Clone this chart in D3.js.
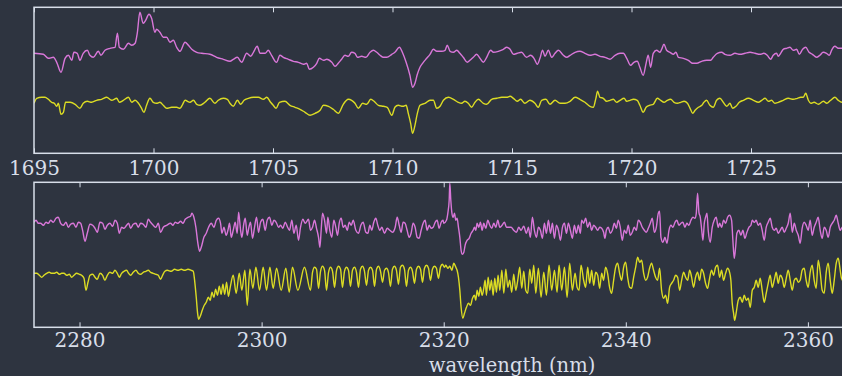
<!DOCTYPE html>
<html lang="en">
<head>
<meta charset="UTF-8">
<title>Two-band spectra</title>
<script src="https://d3js.org/d3.v7.min.js"></script>
<style>
  html, body { margin: 0; padding: 0; background: #2e3440; }
  svg { display: block; }
</style>
</head>
<body>
<div id="chart"></div>
<script>
// Tick values for the two wavelength windows (only the ones on the page)
const topTicks = [1695, 1700, 1705, 1710, 1715, 1720, 1725];
const botTicks = [2280, 2300, 2320, 2340, 2360];

// [wavelength (nm), flux], upper window
const topPink = [
  [1695.00,1.00],[1695.39,0.99],[1695.60,0.95],[1695.81,0.96],[1695.95,0.91],[1696.13,0.81],[1696.30,0.95],[1696.44,0.98],
  [1696.58,0.93],[1696.67,1.01],[1696.81,1.00],[1696.92,0.93],[1697.06,1.00],[1697.23,1.03],[1697.34,0.98],[1697.48,0.96],
  [1697.69,1.02],[1697.80,0.98],[1697.97,1.03],[1698.18,1.05],[1698.39,1.06],[1698.49,1.20],[1698.57,1.06],[1698.74,1.04],
  [1698.95,1.10],[1699.09,1.08],[1699.23,1.10],[1699.32,1.20],[1699.43,1.41],[1699.57,1.30],[1699.67,1.33],[1699.81,1.39],
  [1699.92,1.35],[1700.06,1.21],[1700.13,1.24],[1700.27,1.21],[1700.41,1.16],[1700.55,1.16],[1700.69,1.11],[1700.83,1.13],
  [1700.97,1.06],[1701.11,1.02],[1701.32,1.11],[1701.46,1.08],[1701.60,1.04],[1701.81,1.01],[1702.02,1.00],[1702.36,0.99],
  [1702.64,0.96],[1702.92,0.94],[1703.20,0.92],[1703.34,0.94],[1703.51,0.96],[1703.69,0.91],[1703.90,1.00],[1704.07,0.97],
  [1704.18,1.01],[1704.34,1.07],[1704.46,1.00],[1704.67,1.00],[1704.80,1.03],[1704.94,0.98],[1705.15,0.91],[1705.29,0.98],
  [1705.43,0.96],[1705.64,0.94],[1705.85,0.92],[1706.06,0.91],[1706.27,0.89],[1706.41,0.90],[1706.52,0.84],[1706.69,0.86],
  [1706.83,0.90],[1706.94,0.95],[1707.11,0.93],[1707.25,0.94],[1707.46,0.91],[1707.60,0.87],[1707.73,0.90],[1707.87,0.94],
  [1708.01,0.98],[1708.15,0.97],[1708.29,1.01],[1708.43,1.00],[1708.53,0.96],[1708.71,0.97],[1708.89,0.96],[1709.06,1.01],
  [1709.20,1.03],[1709.34,1.01],[1709.48,0.98],[1709.62,0.96],[1709.76,0.96],[1709.97,0.99],[1710.10,1.01],[1710.29,1.06],
  [1710.43,1.00],[1710.57,0.91],[1710.73,0.78],[1710.84,0.66],[1710.94,0.70],[1711.04,0.79],[1711.15,0.86],[1711.29,0.91],
  [1711.43,0.95],[1711.57,0.99],[1711.71,1.04],[1711.85,1.02],[1712.06,1.02],[1712.20,1.03],[1712.29,1.08],[1712.41,1.02],
  [1712.55,1.01],[1712.69,1.03],[1712.82,1.00],[1712.96,0.96],[1713.13,0.91],[1713.24,0.93],[1713.38,0.96],[1713.52,0.99],
  [1713.66,0.95],[1713.80,0.91],[1713.94,0.96],[1714.11,1.03],[1714.22,1.01],[1714.43,1.02],[1714.64,1.04],[1714.78,1.06],
  [1714.92,1.04],[1715.06,0.99],[1715.22,1.00],[1715.40,1.01],[1715.61,0.96],[1715.78,0.98],[1715.92,0.95],[1716.06,0.89],
  [1716.17,0.95],[1716.28,1.03],[1716.38,0.97],[1716.52,1.03],[1716.66,0.96],[1716.80,1.00],[1716.94,1.03],[1717.15,0.98],
  [1717.29,0.96],[1717.43,0.98],[1717.64,1.01],[1717.84,1.02],[1718.05,1.00],[1718.26,0.98],[1718.47,0.99],[1718.68,0.97],
  [1718.89,0.96],[1719.10,0.94],[1719.31,0.98],[1719.52,1.00],[1719.66,1.00],[1719.80,0.95],[1719.96,0.88],[1720.10,0.91],
  [1720.24,0.92],[1720.35,0.86],[1720.49,0.78],[1720.61,0.90],[1720.70,0.98],[1720.80,0.86],[1720.91,1.00],[1721.05,1.03],
  [1721.19,1.01],[1721.26,1.04],[1721.36,1.09],[1721.47,1.03],[1721.61,1.01],[1721.75,0.99],[1721.86,1.01],[1721.96,0.96],
  [1722.17,0.95],[1722.38,0.93],[1722.56,0.90],[1722.73,0.90],[1722.94,0.92],[1723.14,0.93],[1723.31,0.93],[1723.42,0.96],
  [1723.59,1.00],[1723.77,1.01],[1723.91,0.99],[1724.12,0.98],[1724.33,1.00],[1724.54,0.99],[1724.75,1.00],[1724.96,1.01],
  [1725.17,1.00],[1725.38,0.99],[1725.54,1.00],[1725.68,0.98],[1725.82,0.94],[1725.93,0.98],[1726.07,1.00],[1726.14,0.97],
  [1726.24,1.00],[1726.35,1.04],[1726.49,1.05],[1726.63,1.06],[1726.77,1.03],[1726.91,1.04],[1727.02,0.99],[1727.16,1.04],
  [1727.29,1.06],[1727.43,1.01],[1727.57,0.99],[1727.74,0.96],[1727.88,0.98],[1728.02,1.01],[1728.16,1.00],[1728.28,0.98],
  [1728.37,1.03],[1728.51,1.07],[1728.65,1.05],[1728.80,1.05],[1729.10,1.04]
];

const topYellow = [
  [1695.00,0.50],[1695.11,0.55],[1695.32,0.56],[1695.46,0.56],[1695.60,0.54],[1695.74,0.51],[1695.85,0.50],[1695.95,0.47],
  [1696.02,0.50],[1696.13,0.39],[1696.23,0.41],[1696.32,0.51],[1696.51,0.51],[1696.72,0.49],[1696.92,0.45],[1697.06,0.50],
  [1697.23,0.52],[1697.41,0.51],[1697.62,0.53],[1697.83,0.54],[1698.04,0.56],[1698.25,0.53],[1698.46,0.55],[1698.57,0.51],
  [1698.74,0.53],[1698.95,0.56],[1699.09,0.51],[1699.23,0.53],[1699.37,0.50],[1699.48,0.46],[1699.60,0.41],[1699.71,0.48],
  [1699.85,0.55],[1699.99,0.51],[1700.13,0.50],[1700.27,0.51],[1700.41,0.48],[1700.55,0.45],[1700.76,0.46],[1700.97,0.46],
  [1701.11,0.45],[1701.22,0.49],[1701.32,0.53],[1701.53,0.51],[1701.67,0.53],[1701.81,0.49],[1701.95,0.48],[1702.15,0.51],
  [1702.36,0.55],[1702.57,0.50],[1702.71,0.53],[1702.92,0.55],[1703.09,0.54],[1703.20,0.50],[1703.34,0.47],[1703.51,0.53],
  [1703.65,0.49],[1703.79,0.53],[1703.97,0.55],[1704.18,0.56],[1704.39,0.56],[1704.60,0.54],[1704.74,0.56],[1704.90,0.51],
  [1705.01,0.48],[1705.13,0.45],[1705.27,0.51],[1705.50,0.52],[1705.71,0.48],[1705.92,0.46],[1706.13,0.44],[1706.34,0.41],
  [1706.55,0.38],[1706.76,0.40],[1706.97,0.43],[1707.11,0.48],[1707.32,0.47],[1707.52,0.44],[1707.73,0.40],[1707.94,0.49],
  [1708.15,0.54],[1708.29,0.53],[1708.43,0.50],[1708.57,0.45],[1708.75,0.50],[1708.92,0.49],[1709.09,0.54],[1709.23,0.52],
  [1709.41,0.48],[1709.62,0.47],[1709.78,0.46],[1709.97,0.38],[1710.10,0.46],[1710.24,0.48],[1710.43,0.47],[1710.57,0.48],
  [1710.66,0.40],[1710.76,0.30],[1710.84,0.20],[1710.94,0.28],[1711.04,0.40],[1711.15,0.48],[1711.36,0.50],[1711.57,0.53],
  [1711.71,0.53],[1711.85,0.45],[1711.99,0.47],[1712.13,0.53],[1712.34,0.56],[1712.55,0.54],[1712.75,0.51],[1712.89,0.50],
  [1713.03,0.52],[1713.17,0.50],[1713.31,0.46],[1713.45,0.51],[1713.59,0.54],[1713.80,0.50],[1713.94,0.49],[1714.15,0.54],
  [1714.36,0.55],[1714.57,0.56],[1714.78,0.56],[1714.92,0.57],[1715.06,0.55],[1715.22,0.52],[1715.36,0.54],[1715.54,0.50],
  [1715.75,0.53],[1715.96,0.50],[1716.10,0.46],[1716.24,0.53],[1716.42,0.54],[1716.59,0.49],[1716.80,0.53],[1717.01,0.50],
  [1717.22,0.50],[1717.43,0.52],[1717.64,0.56],[1717.84,0.54],[1718.05,0.51],[1718.26,0.47],[1718.40,0.46],[1718.51,0.55],
  [1718.58,0.62],[1718.68,0.56],[1718.82,0.55],[1718.96,0.52],[1719.10,0.53],[1719.24,0.54],[1719.38,0.51],[1719.52,0.53],
  [1719.69,0.55],[1719.80,0.52],[1719.94,0.53],[1720.08,0.54],[1720.24,0.53],[1720.35,0.48],[1720.49,0.41],[1720.61,0.46],
  [1720.75,0.48],[1720.91,0.49],[1721.08,0.55],[1721.22,0.53],[1721.36,0.51],[1721.50,0.53],[1721.64,0.54],[1721.78,0.51],
  [1721.92,0.50],[1722.06,0.51],[1722.20,0.52],[1722.34,0.50],[1722.45,0.45],[1722.56,0.40],[1722.66,0.43],[1722.80,0.46],
  [1722.94,0.48],[1723.03,0.51],[1723.14,0.53],[1723.28,0.48],[1723.42,0.46],[1723.56,0.53],[1723.70,0.55],[1723.84,0.51],
  [1723.98,0.47],[1724.12,0.50],[1724.23,0.45],[1724.37,0.47],[1724.51,0.51],[1724.68,0.53],[1724.89,0.55],[1725.10,0.53],
  [1725.31,0.51],[1725.45,0.53],[1725.59,0.55],[1725.73,0.52],[1725.86,0.53],[1726.00,0.50],[1726.14,0.51],[1726.35,0.53],
  [1726.56,0.55],[1726.77,0.54],[1726.94,0.55],[1727.08,0.56],[1727.19,0.56],[1727.29,0.60],[1727.40,0.53],[1727.50,0.50],
  [1727.64,0.51],[1727.82,0.49],[1728.03,0.52],[1728.17,0.50],[1728.33,0.53],[1728.51,0.56],[1728.65,0.53],[1728.80,0.51],
  [1729.10,0.52]
];

// [wavelength (nm), flux], lower window
const botPink = [
  [2275.00,1.05],[2275.22,1.07],[2275.48,1.04],[2275.73,1.04],[2276.02,1.02],[2276.32,1.05],[2276.57,1.04],[2276.83,1.07],
  [2277.12,1.05],[2277.41,1.09],[2277.67,1.10],[2277.93,1.04],[2278.22,1.02],[2278.51,1.05],[2278.77,1.00],[2279.02,1.03],
  [2279.32,1.04],[2279.61,1.00],[2279.87,1.05],[2280.12,1.04],[2280.34,0.97],[2280.60,0.86],[2280.85,0.94],[2281.15,1.03],
  [2281.44,1.02],[2281.70,0.99],[2281.95,0.95],[2282.24,1.05],[2282.54,1.04],[2282.79,0.98],[2283.05,1.02],[2283.34,1.04],
  [2283.64,1.01],[2283.89,1.07],[2284.15,1.04],[2284.37,0.94],[2284.62,1.00],[2284.88,0.99],[2285.17,1.02],[2285.39,1.04],
  [2285.61,0.99],[2285.90,1.03],[2286.20,1.04],[2286.45,1.00],[2286.71,1.04],[2287.00,1.03],[2287.29,1.00],[2287.55,1.08],
  [2287.81,1.05],[2288.10,1.02],[2288.39,1.00],[2288.65,1.04],[2288.90,0.95],[2289.20,1.00],[2289.56,1.02],[2290.00,1.04],
  [2290.26,1.02],[2290.51,1.05],[2290.81,1.04],[2291.10,1.06],[2291.36,1.04],[2291.61,1.08],[2291.91,1.10],[2292.20,1.11],
  [2292.34,1.14],[2292.56,1.10],[2292.78,1.00],[2293.00,0.84],[2293.19,0.76],[2293.37,0.80],[2293.66,0.90],[2293.92,0.94],
  [2294.17,1.00],[2294.47,1.04],[2294.76,1.00],[2295.02,1.07],[2295.27,1.09],[2295.49,1.04],[2295.64,0.94],[2295.86,1.00],
  [2296.11,0.92],[2296.30,0.97],[2296.48,1.04],[2296.66,0.90],[2296.88,0.97],[2297.10,1.05],[2297.32,0.94],[2297.47,1.15],
  [2297.69,0.97],[2297.83,0.90],[2298.05,1.04],[2298.20,1.09],[2298.42,0.92],[2298.60,1.00],[2298.78,1.05],[2299.00,0.89],
  [2299.22,1.00],[2299.44,1.10],[2299.66,0.95],[2299.88,1.05],[2300.14,1.08],[2300.39,0.97],[2300.61,1.07],[2300.87,1.10],
  [2301.13,1.02],[2301.35,1.07],[2301.60,1.05],[2301.86,1.00],[2302.08,1.02],[2302.33,0.99],[2302.59,1.05],[2302.81,1.01],
  [2303.06,0.97],[2303.32,1.07],[2303.54,0.94],[2303.80,1.02],[2304.05,0.87],[2304.27,1.00],[2304.53,1.08],[2304.78,1.04],
  [2305.15,1.08],[2305.37,0.97],[2305.59,1.00],[2305.81,1.07],[2306.03,0.99],[2306.25,0.90],[2306.40,0.80],[2306.54,0.97],
  [2306.69,1.14],[2306.91,1.07],[2307.13,0.94],[2307.27,1.10],[2307.49,0.97],[2307.71,0.90],[2307.93,1.07],[2308.15,1.00],
  [2308.34,0.92],[2308.52,1.04],[2308.74,1.09],[2308.96,1.00],[2309.18,1.02],[2309.40,0.97],[2309.62,1.05],[2309.84,1.02],
  [2310.06,1.07],[2310.35,0.97],[2310.64,0.94],[2310.90,1.02],[2311.15,1.05],[2311.45,0.95],[2311.67,0.94],[2311.89,1.02],
  [2312.10,0.97],[2312.32,1.05],[2312.54,1.09],[2312.76,1.02],[2312.98,0.97],[2313.20,1.00],[2313.50,0.94],[2313.79,0.99],
  [2314.08,0.97],[2314.37,0.95],[2314.67,1.00],[2314.89,1.10],[2315.11,1.02],[2315.32,0.95],[2315.54,1.05],[2315.76,1.04],
  [2315.98,0.97],[2316.20,0.90],[2316.42,0.94],[2316.64,1.04],[2316.86,1.00],[2317.08,0.90],[2317.30,0.89],[2317.52,0.97],
  [2317.74,1.04],[2317.96,1.07],[2318.18,0.97],[2318.40,1.02],[2318.62,0.99],[2318.84,1.00],[2319.06,1.05],[2319.28,1.07],
  [2319.50,0.99],[2319.72,1.05],[2319.93,1.07],[2320.01,1.04],[2320.30,1.07],[2320.45,1.14],[2320.60,1.27],[2320.67,1.44],
  [2320.78,1.27],[2320.89,1.15],[2321.03,1.10],[2321.18,1.14],[2321.33,1.07],[2321.47,1.09],[2321.62,1.00],[2321.77,0.90],
  [2321.91,0.77],[2322.06,0.73],[2322.21,0.75],[2322.35,0.82],[2322.57,0.87],[2322.79,0.89],[2323.01,0.94],[2323.23,0.97],
  [2323.38,1.00],[2323.52,0.97],[2323.67,1.04],[2323.85,1.00],[2324.03,1.05],[2324.22,0.97],[2324.40,1.04],[2324.62,0.99],
  [2324.84,1.07],[2325.06,1.02],[2325.28,0.99],[2325.50,1.04],[2325.72,1.00],[2325.94,1.07],[2326.16,1.00],[2326.41,1.02],
  [2326.67,1.05],[2326.89,1.00],[2327.14,1.00],[2327.40,1.00],[2327.69,0.97],[2327.99,0.95],[2328.24,1.00],[2328.50,0.97],
  [2328.79,1.01],[2329.08,0.94],[2329.30,1.00],[2329.52,0.90],[2329.74,1.10],[2329.96,0.97],[2330.18,0.90],[2330.40,1.00],
  [2330.62,0.97],[2330.84,0.89],[2331.06,1.04],[2331.28,0.94],[2331.50,1.07],[2331.72,0.94],[2331.94,1.04],[2332.16,0.89],
  [2332.38,1.02],[2332.60,0.97],[2332.82,0.87],[2333.04,1.00],[2333.26,1.04],[2333.48,0.94],[2333.69,1.04],[2333.91,0.97],
  [2334.13,0.89],[2334.35,1.02],[2334.57,0.94],[2334.79,1.02],[2335.01,0.94],[2335.15,1.07],[2335.37,1.04],[2335.59,1.09],
  [2335.81,1.00],[2336.03,1.05],[2336.25,0.97],[2336.47,1.02],[2336.69,1.00],[2336.91,0.97],[2337.13,1.00],[2337.35,0.99],
  [2337.56,0.95],[2337.71,0.89],[2337.86,0.97],[2338.08,1.00],[2338.30,0.94],[2338.52,0.97],[2338.74,1.04],[2338.96,0.99],
  [2339.17,1.07],[2339.39,1.00],[2339.61,0.87],[2339.83,0.97],[2340.05,0.94],[2340.27,1.02],[2340.49,0.92],[2340.71,0.95],
  [2340.93,1.00],[2341.15,0.97],[2341.37,1.07],[2341.59,1.05],[2341.81,1.00],[2342.03,0.97],[2342.25,0.95],[2342.47,0.99],
  [2342.69,1.04],[2342.91,1.09],[2343.13,0.95],[2343.35,1.00],[2343.57,1.14],[2343.71,1.16],[2343.86,0.90],[2344.08,0.85],
  [2344.30,0.90],[2344.52,0.84],[2344.74,0.97],[2344.96,1.02],[2345.18,1.00],[2345.40,1.05],[2345.61,1.07],[2345.83,1.02],
  [2346.05,1.04],[2346.27,1.05],[2346.49,1.00],[2346.71,1.04],[2346.93,1.02],[2347.15,1.07],[2347.37,1.10],[2347.59,1.09],
  [2347.74,1.14],[2347.88,1.34],[2348.03,1.15],[2348.18,1.10],[2348.32,0.99],[2348.47,0.87],[2348.62,1.04],[2348.76,1.10],
  [2348.91,1.14],[2349.05,0.97],[2349.27,0.85],[2349.49,1.00],[2349.71,1.07],[2349.93,1.10],[2350.15,1.00],[2350.30,1.04],
  [2350.52,1.00],[2350.74,1.07],[2350.96,1.04],[2351.18,1.10],[2351.40,1.12],[2351.62,1.07],[2351.76,0.87],[2351.91,0.69],
  [2352.06,0.80],[2352.20,0.94],[2352.42,0.97],[2352.64,0.92],[2352.86,0.97],[2353.08,0.89],[2353.30,0.95],[2353.52,1.00],
  [2353.74,1.02],[2353.89,1.07],[2354.11,1.05],[2354.32,1.07],[2354.54,1.02],[2354.76,1.04],[2354.98,0.97],[2355.20,0.87],
  [2355.42,1.00],[2355.64,1.05],[2355.86,1.09],[2356.08,1.00],[2356.30,0.97],[2356.52,0.99],[2356.74,0.94],[2356.96,0.97],
  [2357.18,1.00],[2357.40,0.95],[2357.62,0.99],[2357.84,1.04],[2358.06,1.14],[2358.28,0.95],[2358.50,1.04],[2358.72,0.97],
  [2358.94,0.92],[2359.15,0.84],[2359.37,0.99],[2359.59,1.05],[2359.81,1.02],[2360.03,0.97],[2360.25,1.07],[2360.47,0.92],
  [2360.69,1.00],[2360.91,1.05],[2361.13,1.10],[2361.35,0.97],[2361.57,0.89],[2361.79,1.00],[2362.01,0.97],[2362.23,0.90],
  [2362.45,1.00],[2362.67,1.04],[2362.89,1.07],[2363.11,1.12],[2363.33,1.04],[2363.55,0.97],[2363.69,0.99],[2364.00,1.02]
];

const botYellow = [
  [2275.00,0.54],[2275.29,0.54],[2275.59,0.52],[2275.84,0.50],[2276.10,0.52],[2276.39,0.54],[2276.68,0.55],[2276.94,0.54],
  [2277.20,0.54],[2277.49,0.55],[2277.78,0.53],[2278.04,0.54],[2278.29,0.54],[2278.59,0.52],[2278.88,0.53],[2279.13,0.50],
  [2279.39,0.52],[2279.68,0.54],[2279.98,0.53],[2280.23,0.52],[2280.49,0.49],[2280.71,0.37],[2280.93,0.45],[2281.15,0.52],
  [2281.44,0.53],[2281.70,0.50],[2281.95,0.48],[2282.24,0.54],[2282.54,0.52],[2282.79,0.47],[2283.05,0.52],[2283.34,0.55],
  [2283.64,0.54],[2283.89,0.57],[2284.15,0.54],[2284.37,0.50],[2284.62,0.54],[2284.88,0.56],[2285.17,0.57],[2285.39,0.54],
  [2285.61,0.52],[2285.90,0.55],[2286.20,0.57],[2286.45,0.54],[2286.71,0.53],[2287.00,0.55],[2287.29,0.56],[2287.55,0.57],
  [2287.81,0.55],[2288.10,0.54],[2288.39,0.53],[2288.65,0.52],[2288.90,0.48],[2289.12,0.52],[2289.38,0.56],[2289.64,0.57],
  [2290.08,0.56],[2290.44,0.58],[2290.81,0.57],[2291.17,0.58],[2291.54,0.57],[2291.91,0.58],[2292.27,0.57],[2292.49,0.56],
  [2292.64,0.47],[2292.82,0.30],[2292.97,0.14],[2293.08,0.08],[2293.26,0.11],[2293.48,0.17],[2293.70,0.22],[2293.92,0.25],
  [2294.15,0.30],[2294.35,0.27],[2294.55,0.35],[2294.75,0.30],[2294.95,0.38],[2295.15,0.32],[2295.35,0.41],[2295.55,0.33],
  [2295.75,0.43],[2295.95,0.33],[2296.15,0.45],[2296.35,0.31],[2296.55,0.40],[2296.88,0.52],[2297.21,0.34],
  [2297.54,0.54],[2297.83,0.37],[2298.16,0.57],[2298.42,0.22],[2298.71,0.58],[2299.04,0.39],[2299.37,0.60],[2299.77,0.37],
  [2300.17,0.60],[2300.54,0.37],[2300.91,0.60],[2301.27,0.39],[2301.64,0.59],[2302.15,0.37],[2302.66,0.59],[2303.03,0.35],
  [2303.39,0.60],[2303.98,0.37],[2304.71,0.60],[2305.37,0.37],[2305.59,0.55],[2305.81,0.60],[2306.03,0.58],[2306.25,0.39],
  [2306.47,0.56],[2306.69,0.61],[2306.91,0.57],[2307.13,0.37],[2307.35,0.55],[2307.57,0.60],[2307.79,0.56],[2308.01,0.40],
  [2308.23,0.57],[2308.45,0.61],[2308.67,0.58],[2308.88,0.40],[2309.10,0.56],[2309.32,0.60],[2309.54,0.57],[2309.76,0.41],
  [2309.98,0.57],[2310.20,0.60],[2310.42,0.55],[2310.64,0.40],[2310.86,0.58],[2311.08,0.61],[2311.30,0.56],[2311.52,0.42],
  [2311.74,0.57],[2311.96,0.60],[2312.18,0.57],[2312.40,0.41],[2312.62,0.58],[2312.84,0.61],[2313.06,0.56],[2313.28,0.45],
  [2313.50,0.57],[2313.72,0.59],[2313.93,0.55],[2314.15,0.41],[2314.37,0.58],[2314.59,0.61],[2314.81,0.57],[2315.03,0.43],
  [2315.25,0.60],[2315.47,0.62],[2315.69,0.58],[2315.91,0.41],[2316.13,0.57],[2316.35,0.60],[2316.57,0.56],[2316.79,0.44],
  [2317.01,0.58],[2317.23,0.61],[2317.45,0.58],[2317.67,0.45],[2317.89,0.59],[2318.11,0.62],[2318.33,0.59],[2318.54,0.47],
  [2318.76,0.58],[2318.98,0.61],[2319.20,0.59],[2319.42,0.49],[2319.64,0.60],[2319.86,0.63],[2320.08,0.60],[2320.23,0.62],
  [2320.45,0.59],[2320.67,0.61],[2320.89,0.57],[2321.11,0.64],[2321.33,0.60],[2321.47,0.57],[2321.62,0.50],[2321.77,0.37],
  [2321.91,0.20],[2322.10,0.09],[2322.28,0.14],[2322.50,0.20],[2322.72,0.24],[2322.94,0.22],[2323.16,0.29],[2323.38,0.32],
  [2323.52,0.27],[2323.67,0.37],[2323.85,0.31],[2324.03,0.40],[2324.22,0.32],[2324.40,0.39],[2324.55,0.47],[2324.69,0.32],
  [2324.88,0.50],[2325.06,0.37],[2325.24,0.47],[2325.43,0.32],[2325.61,0.49],[2325.79,0.35],[2325.97,0.52],[2326.16,0.37],
  [2326.38,0.57],[2326.60,0.34],[2326.82,0.58],[2327.04,0.40],[2327.25,0.47],[2327.47,0.35],[2327.69,0.53],[2327.91,0.37],
  [2328.13,0.47],[2328.35,0.60],[2328.57,0.39],[2328.79,0.56],[2329.01,0.37],[2329.23,0.34],[2329.45,0.58],[2329.67,0.44],
  [2329.89,0.62],[2330.11,0.34],[2330.40,0.59],[2330.69,0.30],[2330.99,0.55],[2331.28,0.32],[2331.57,0.62],[2331.86,0.37],
  [2332.16,0.57],[2332.45,0.35],[2332.67,0.62],[2332.96,0.37],[2333.26,0.60],[2333.55,0.30],[2333.84,0.64],[2334.13,0.37],
  [2334.43,0.54],[2334.65,0.40],[2334.87,0.37],[2335.08,0.62],[2335.37,0.47],[2335.59,0.40],[2335.81,0.60],[2336.03,0.44],
  [2336.25,0.57],[2336.47,0.42],[2336.69,0.55],[2336.91,0.52],[2337.13,0.39],[2337.35,0.54],[2337.56,0.47],[2337.78,0.60],
  [2338.00,0.54],[2338.22,0.40],[2338.44,0.34],[2338.66,0.47],[2338.88,0.60],[2339.10,0.64],[2339.32,0.54],[2339.54,0.47],
  [2339.76,0.60],[2339.98,0.65],[2340.20,0.50],[2340.42,0.40],[2340.64,0.39],[2340.86,0.50],[2341.08,0.60],[2341.30,0.70],
  [2341.52,0.65],[2341.74,0.67],[2341.96,0.54],[2342.18,0.47],[2342.39,0.50],[2342.61,0.59],[2342.83,0.64],[2343.05,0.57],
  [2343.27,0.50],[2343.49,0.47],[2343.71,0.59],[2343.93,0.37],[2344.15,0.29],[2344.37,0.32],[2344.59,0.24],[2344.81,0.40],
  [2345.03,0.44],[2345.25,0.47],[2345.47,0.52],[2345.69,0.50],[2345.91,0.37],[2346.13,0.47],[2346.35,0.55],[2346.57,0.50],
  [2346.79,0.47],[2347.01,0.57],[2347.23,0.50],[2347.44,0.40],[2347.66,0.50],[2347.88,0.55],[2348.10,0.47],[2348.32,0.58],
  [2348.54,0.54],[2348.76,0.44],[2348.98,0.39],[2349.20,0.49],[2349.42,0.57],[2349.64,0.52],[2349.86,0.60],[2350.08,0.62],
  [2350.30,0.50],[2350.52,0.57],[2350.74,0.47],[2350.96,0.54],[2351.18,0.59],[2351.40,0.55],[2351.54,0.47],[2351.69,0.24],
  [2351.84,0.14],[2351.95,0.07],[2352.13,0.15],[2352.35,0.27],[2352.57,0.30],[2352.79,0.25],[2353.01,0.32],[2353.23,0.27],
  [2353.45,0.29],[2353.67,0.20],[2353.89,0.37],[2354.11,0.40],[2354.32,0.47],[2354.54,0.40],[2354.76,0.49],[2354.98,0.37],
  [2355.20,0.25],[2355.42,0.34],[2355.64,0.44],[2355.86,0.52],[2356.08,0.40],[2356.30,0.47],[2356.52,0.55],[2356.74,0.44],
  [2356.96,0.52],[2357.18,0.49],[2357.40,0.40],[2357.62,0.49],[2357.84,0.57],[2358.06,0.47],[2358.28,0.37],[2358.50,0.47],
  [2358.72,0.49],[2358.94,0.45],[2359.15,0.47],[2359.37,0.57],[2359.59,0.59],[2359.81,0.47],[2360.03,0.40],[2360.25,0.55],
  [2360.47,0.62],[2360.69,0.47],[2360.91,0.39],[2361.13,0.67],[2361.35,0.55],[2361.57,0.37],[2361.79,0.34],[2362.01,0.55],
  [2362.23,0.64],[2362.45,0.47],[2362.67,0.34],[2362.89,0.47],[2363.11,0.64],[2363.33,0.69],[2363.55,0.57],[2363.69,0.49],
  [2364.00,0.45]
];

// Page & style
const width = 842, height = 376;
const bg = "#2e3440", fg = "#d8dee9";
const pinkColor = "#d977d9", yellowColor = "#dcdc24";
const left = 34, right = 990; // axes run past the right edge of the page
const fontFamily = "'DejaVu Serif', serif";

const svg = d3.select("#chart")
    .append("svg")
    .attr("width", width)
    .attr("height", height);

svg.append("rect")
    .attr("width", width)
    .attr("height", height)
    .attr("fill", bg);

const panels = [
    { id: "top", domain: [1695, 1735], ticks: topTicks, y0: 7.3, y1: 153.3, yMax: 1.46, pad: 7.5, series: [topPink, topYellow] },
    { id: "bot", domain: [2275, 2380], ticks: botTicks, y0: 182.3, y1: 327.3, yMax: 1.45, pad: 6, series: [botPink, botYellow] }
];

panels.forEach(p => {
    const x = d3.scaleLinear().domain(p.domain).range([left, right]);
    const y = d3.scaleLinear().domain([0, p.yMax]).range([p.y1, p.y0]);

    // clip to the axes box
    svg.append("clipPath")
        .attr("id", "clip-" + p.id)
        .append("rect")
        .attr("x", left).attr("y", p.y0)
        .attr("width", right - left).attr("height", p.y1 - p.y0);

    const line = d3.line()
        .curve(d3.curveMonotoneX)
        .x(d => x(d[0]))
        .y(d => y(d[1]));

    const colors = [pinkColor, yellowColor];
    p.series.forEach((s, i) => {
        svg.append("path")
            .datum(s)
            .attr("clip-path", `url(#clip-${p.id})`)
            .attr("fill", "none")
            .attr("stroke", colors[i])
            .attr("stroke-width", 1.4)
            .attr("stroke-linejoin", "round")
            .attr("d", line);
    });

    // bottom axis with inward ticks
    const gb = svg.append("g")
        .attr("transform", `translate(0, ${p.y1})`)
        .call(d3.axisBottom(x).tickValues(p.ticks).tickSize(-5).tickPadding(p.pad).tickFormat(d3.format("d")));
    // top axis, ticks only
    const gt = svg.append("g")
        .attr("transform", `translate(0, ${p.y0})`)
        .call(d3.axisTop(x).tickValues(p.ticks).tickSize(-5).tickFormat(""));

    [gb, gt].forEach(g => {
        g.select(".domain").remove();
        g.selectAll(".tick line").attr("stroke", fg).attr("stroke-width", 1);
        g.selectAll(".tick text")
            .attr("fill", fg)
            .style("font-family", fontFamily)
            .style("font-size", "20px");
    });

    // frame
    svg.append("rect")
        .attr("x", left).attr("y", p.y0)
        .attr("width", right - left).attr("height", p.y1 - p.y0)
        .attr("fill", "none")
        .attr("stroke", fg)
        .attr("stroke-width", 1.5);
});

// x label, centred on the full axes width
svg.append("text")
    .attr("x", (left + right) / 2)
    .attr("y", 371.5)
    .attr("text-anchor", "middle")
    .attr("fill", fg)
    .style("font-family", fontFamily)
    .style("font-size", "19.5px")
    .text("wavelength (nm)");
</script>
</body>
</html>
